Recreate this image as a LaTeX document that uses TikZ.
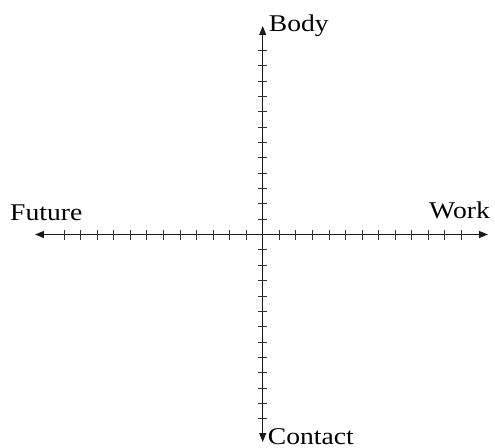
\documentclass[tikz,border=0pt]{standalone}
\usepackage{fontspec}
\usepackage{tikz}
\usetikzlibrary{positioning,arrows.meta}
\newfontfamily\lblfont[FakeStretch=1.15]{Liberation Serif}

\begin{document}
\begin{tikzpicture}[
    x=1pt,y=1pt,
    axis/.style={{Triangle[length=9pt,width=7pt]}-{Triangle[length=9pt,width=7pt]},line width=1pt,black!90},
    tick/.style={line width=0.8pt,black!80},
    lbl/.style={inner sep=0pt,font=\lblfont\fontsize{24}{24}\selectfont},
  ]
    \useasboundingbox (-262.7,-212.5) rectangle (232.3,234.5);
    \coordinate (W) at (-227.7,0);
    \coordinate (E) at (225.3,0);
    \coordinate (N) at (0,208.5);
    \coordinate (S) at (0,-207.5);
    \draw[axis] (W) -- (E);
    \draw[axis] (S) -- (N);
    % ticks on both axes
    \foreach \k in {1,...,12} {
      \draw[tick] (16.55*\k,-5) -- ++(0,10);
      \draw[tick] (-16.55*\k,-5) -- ++(0,10);
      \draw[tick] (-4.5,15.35*\k) -- ++(9,0);
      \draw[tick] (-4.5,-15.35*\k) -- ++(9,0);
    }
    \node[lbl,anchor=base west] (body) at ([xshift=6pt,yshift=-6pt]N) {Body};
    \node[lbl,anchor=base west] (contact) at ([xshift=5pt,yshift=-2pt]S) {Contact};
    \node[lbl,anchor=base west] (future) at ([xshift=-25pt,yshift=14.5pt]W) {Future};
    \node[lbl,anchor=base east] (work) at ([xshift=2pt,yshift=16pt]E) {Work};
\end{tikzpicture}
\end{document}
